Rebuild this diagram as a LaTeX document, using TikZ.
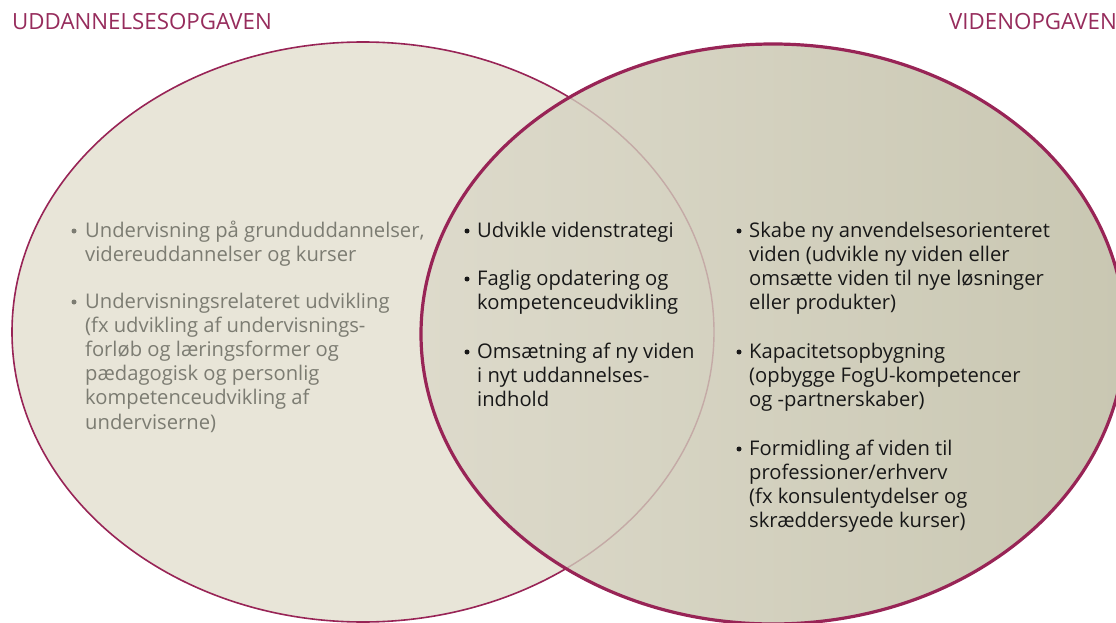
\documentclass[tikz,border=0pt]{standalone}
\usepackage{fontspec}
\setmainfont{Open Sans}
\definecolor{plum}{RGB}{152,36,86}
\definecolor{titlec}{RGB}{150,44,92}
\definecolor{leftfill}{RGB}{232,229,216}
\definecolor{rfillL}{RGB}{221,218,203}
\definecolor{rfillR}{RGB}{201,199,178}
\definecolor{innerline}{RGB}{196,170,166}
\definecolor{greytxt}{RGB}{124,124,114}
\definecolor{darktxt}{RGB}{24,24,24}
\tikzset{
  title/.style={font=\fontsize{22.3}{24}\selectfont, text=titlec, inner sep=0pt},
  itemtxt/.style={font=\fontsize{20.2}{24.2}\selectfont, align=left, inner sep=0pt, anchor=north west},
  bul/.style={circle, inner sep=0pt, minimum size=5pt},
}
\newcommand{\fs}{\strut}
\begin{document}
\begin{tikzpicture}[x=1pt,y=-1pt]
\useasboundingbox (0,0) rectangle (1116,623);
\clip (0,0) rectangle (1116,623);
% left ellipse
\fill[leftfill] (363,332) ellipse [x radius=351pt, y radius=290pt];
\draw[plum, line width=1.6pt] (363,332) ellipse [x radius=351pt, y radius=290pt];
% right ellipse
\shade[left color=rfillL, right color=rfillR] (773,334) ellipse [x radius=352pt, y radius=290pt];
\begin{scope}
\clip (773,334) ellipse [x radius=352pt, y radius=290pt];
\draw[innerline, line width=1.4pt] (363,332) ellipse [x radius=351pt, y radius=290pt];
\end{scope}
\draw[plum, line width=3.2pt] (773,334) ellipse [x radius=352pt, y radius=290pt];
% titles
\node[title, anchor=base west] (t1) at (12,30) {UDDANNELSESOPGAVEN};
\node[title, anchor=base west] (t2) at (949,30) {VIDENOPGAVEN};
% left items
\begin{scope}[every node/.append style={text=greytxt}]
\node[itemtxt] (l1) at (85,220) {\fs Undervisning på grunduddannelser,\\videreuddannelser og kurser};
\node[bul, fill=greytxt] (lb1) at (74,231) {};
\node[itemtxt] (l2) at (85,291) {\fs Undervisningsrelateret udvikling\\(fx udvikling af undervisnings-\\forløb og læringsformer og\\pædagogisk og personlig\\kompetenceudvikling af\\underviserne)};
\node[bul, fill=greytxt] (lb2) at (74,302) {};
\end{scope}
% middle and right items
\begin{scope}[every node/.append style={text=darktxt}]
\node[itemtxt] (m1) at (477,220) {\fs Udvikle videnstrategi};
\node[bul, fill=darktxt] (mb1) at (467,231) {};
\node[itemtxt] (m2) at (477,268) {\fs Faglig opdatering og\\kompetenceudvikling};
\node[bul, fill=darktxt] (mb2) at (467,279) {};
\node[itemtxt] (m3) at (477,341) {\fs Omsætning af ny viden\\i nyt uddannelses-\\indhold};
\node[bul, fill=darktxt] (mb3) at (467,352) {};
\node[itemtxt] (r1) at (749,220) {\fs Skabe ny anvendelsesorienteret\\viden (udvikle ny viden eller\\omsætte viden til nye løsninger\\eller produkter)};
\node[bul, fill=darktxt] (rb1) at (739,231) {};
\node[itemtxt] (r2) at (749,341) {\fs Kapacitetsopbygning\\(opbygge FogU-kompetencer\\og -partnerskaber)};
\node[bul, fill=darktxt] (rb2) at (739,352) {};
\node[itemtxt] (r3) at (749,438) {\fs Formidling af viden til\\professioner/erhverv\\(fx konsulentydelser og\\skræddersyede kurser)};
\node[bul, fill=darktxt] (rb3) at (739,449) {};
\end{scope}
\end{tikzpicture}
\end{document}
